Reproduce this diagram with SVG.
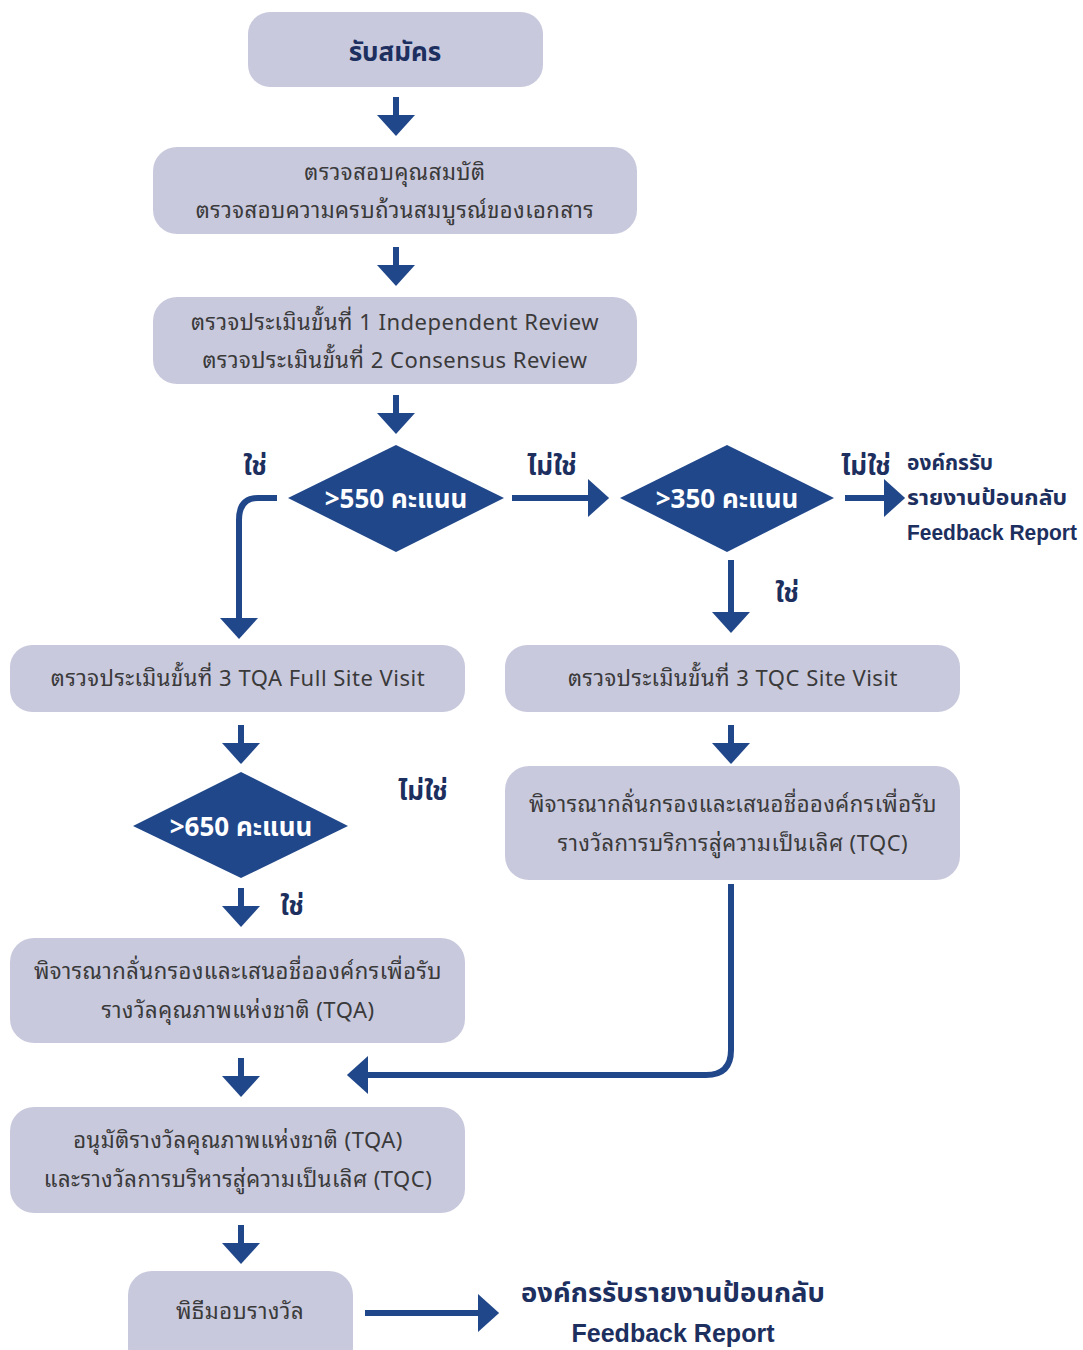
<svg xmlns="http://www.w3.org/2000/svg" width="1083" height="1350" viewBox="0 0 1083 1350">
<defs>
<marker id="ah" markerUnits="userSpaceOnUse" markerWidth="22" markerHeight="38" viewBox="0 0 20 36" refX="0" refY="18" orient="auto">
<path d="M0,0 L20,18 L0,36 Z" fill="#21478b"/>
</marker>
<style>
.box{fill:#c9c9de;}
.dia{fill:#21478b;}
.t{font-family:"Noto Sans Thai Looped","Noto Serif Thai","Noto Sans","Liberation Sans",sans-serif;font-size:22px;letter-spacing:0.5px;fill:#3a3a3a;text-anchor:middle;}
.dt{font-family:"Noto Sans Thai","Noto Sans","Liberation Sans",sans-serif;font-size:26px;font-weight:bold;fill:#ffffff;text-anchor:middle;}
.lb{font-family:"Noto Sans Thai","Noto Sans","Liberation Sans",sans-serif;font-size:26px;font-weight:bold;fill:#1d2f5e;text-anchor:middle;}
.fb{font-family:"Noto Sans Thai","Noto Sans","Liberation Sans",sans-serif;font-size:21px;font-weight:bold;fill:#1d2f5e;}
.en{font-family:"Liberation Sans Narrow","Liberation Sans",sans-serif;font-weight:bold;fill:#1d2f5e;}
.c{fill:none;stroke:#21478b;stroke-width:6;}
</style>
</defs>
<rect width="1083" height="1350" fill="#ffffff"/>
<g id="n1"><rect class="box" x="248" y="12" width="295" height="75" rx="22"/><text x="395" y="61" text-anchor="middle" style="font-family:'Noto Sans Thai','Noto Sans',sans-serif;font-size:26px;font-weight:bold;fill:#1d2f5e">รับสมัคร</text></g>
<g id="n2"><rect class="box" x="153" y="147" width="484" height="87" rx="24"/><text class="t" x="395" y="180">ตรวจสอบคุณสมบัติ</text><text class="t" x="395" y="218">ตรวจสอบความครบถ้วนสมบูรณ์ของเอกสาร</text></g>
<g id="n3"><rect class="box" x="153" y="297" width="484" height="87" rx="24"/><text class="t" x="395" y="330">ตรวจประเมินขั้นที่ 1 Independent Review</text><text class="t" x="395" y="368">ตรวจประเมินขั้นที่ 2 Consensus Review</text></g>
<g id="d1"><polygon class="dia" points="396,445 504,498 396,552 288,498"/><text class="dt" x="396" y="508">&gt;550 คะแนน</text></g>
<g id="d2"><polygon class="dia" points="727,445 834,498 727,552 620,498"/><text class="dt" x="727" y="508">&gt;350 คะแนน</text></g>
<g id="fb1"><text class="fb" x="907" y="470">องค์กรรับ</text><text class="fb" x="907" y="505" textLength="160" lengthAdjust="spacingAndGlyphs">รายงานป้อนกลับ</text><text class="en" x="907" y="540" style="font-size:22px" textLength="170" lengthAdjust="spacingAndGlyphs">Feedback Report</text></g>
<g id="n4"><rect class="box" x="10" y="645" width="455" height="67" rx="22"/><text class="t" x="238" y="686">ตรวจประเมินขั้นที่ 3 TQA Full Site Visit</text></g>
<g id="n5"><rect class="box" x="505" y="645" width="455" height="67" rx="22"/><text class="t" x="733" y="686">ตรวจประเมินขั้นที่ 3 TQC Site Visit</text></g>
<g id="d3"><polygon class="dia" points="241,772 348,826 241,878 133,826"/><text class="dt" x="241" y="836">&gt;650 คะแนน</text></g>
<g id="n7"><rect class="box" x="505" y="766" width="455" height="114" rx="24"/><text class="t" x="733" y="812">พิจารณากลั่นกรองและเสนอชื่อองค์กรเพื่อรับ</text><text class="t" x="733" y="851">รางวัลการบริการสู่ความเป็นเลิศ (TQC)</text></g>
<g id="n6"><rect class="box" x="10" y="938" width="455" height="105" rx="24"/><text class="t" x="238" y="979">พิจารณากลั่นกรองและเสนอชื่อองค์กรเพื่อรับ</text><text class="t" x="238" y="1018">รางวัลคุณภาพแห่งชาติ (TQA)</text></g>
<g id="n8"><rect class="box" x="10" y="1107" width="455" height="106" rx="24"/><text class="t" x="238" y="1148">อนุมัติรางวัลคุณภาพแห่งชาติ (TQA)</text><text class="t" x="238" y="1187">และรางวัลการบริหารสู่ความเป็นเลิศ (TQC)</text></g>
<g id="n9"><rect class="box" x="128" y="1271" width="225" height="100" rx="24"/><text class="t" x="240" y="1319">พิธีมอบรางวัล</text></g>
<g id="fb2"><text class="lb" x="673" y="1302" textLength="304" lengthAdjust="spacingAndGlyphs">องค์กรรับรายงานป้อนกลับ</text><text class="en" x="673" y="1342" text-anchor="middle" style="font-size:26px" textLength="203" lengthAdjust="spacingAndGlyphs">Feedback Report</text></g>
<g id="labels">
<text class="lb" x="255" y="475">ใช่</text>
<text class="lb" x="552" y="475">ไม่ใช่</text>
<text class="lb" x="866" y="475">ไม่ใช่</text>
<text class="lb" x="787" y="602">ใช่</text>
<text class="lb" x="423" y="800">ไม่ใช่</text>
<text class="lb" x="292" y="915">ใช่</text>
</g>
<g id="connectors">
<line class="c" x1="396" y1="97" x2="396" y2="115" marker-end="url(#ah)"/>
<line class="c" x1="396" y1="247" x2="396" y2="265" marker-end="url(#ah)"/>
<line class="c" x1="396" y1="395" x2="396" y2="413" marker-end="url(#ah)"/>
<path class="c" d="M277,498 L258,498 Q239,498 239,520 L239,618" marker-end="url(#ah)"/>
<line class="c" x1="512" y1="498" x2="588" y2="498" marker-end="url(#ah)"/>
<line class="c" x1="845" y1="498" x2="884" y2="498" marker-end="url(#ah)"/>
<line class="c" x1="731" y1="560" x2="731" y2="612" marker-end="url(#ah)"/>
<line class="c" x1="241" y1="725" x2="241" y2="743" marker-end="url(#ah)"/>
<line class="c" x1="731" y1="725" x2="731" y2="743" marker-end="url(#ah)"/>
<line class="c" x1="241" y1="888" x2="241" y2="906" marker-end="url(#ah)"/>
<path class="c" d="M731,884 L731,1050 Q731,1075 706,1075 L368,1075" marker-end="url(#ah)"/>
<line class="c" x1="241" y1="1058" x2="241" y2="1076" marker-end="url(#ah)"/>
<line class="c" x1="241" y1="1225" x2="241" y2="1243" marker-end="url(#ah)"/>
<line class="c" x1="365" y1="1313" x2="478" y2="1313" marker-end="url(#ah)"/>
</g>
</svg>
